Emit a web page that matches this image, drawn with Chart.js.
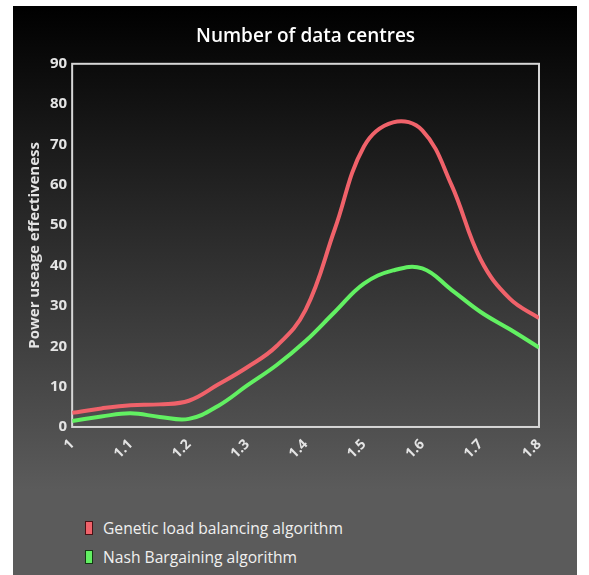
<!DOCTYPE html>
<html>
<head>
<meta charset="utf-8">
<title>Number of data centres</title>
<script src="https://cdn.jsdelivr.net/npm/chart.js@4.4.1/dist/chart.umd.min.js"></script>
<style>
  html, body { margin: 0; padding: 0; background: #fff; }
  #panel {
    position: absolute; left: 13px; top: 6px; width: 564px; height: 569px;
    background: linear-gradient(to bottom, #000 0%, #5b5b5b 85%, #5b5b5b 100%);
  }
  #wrap { position: absolute; left: 0; top: 0; width: 564px; height: 470px; }
  #legend { position: absolute; left: 72px; top: 507px; font-family: 'Open Sans', sans-serif; font-size: 17px; color: #f0f0f0; }
  #legend .item { display: flex; align-items: center; height: 29px; }
  #legend .box { width: 6px; height: 12px; border: 1px solid #2a2a2a; margin-right: 10px; }
  #legend .label { display: inline-block; transform: scaleX(0.92); transform-origin: left center; white-space: nowrap; }
</style>
</head>
<body>
<div id="panel">
  <div id="wrap"><canvas id="chart"></canvas></div>
  <div id="legend"></div>
</div>
<script>
// ===== DATA =====
const xValues = [1.00, 1.05, 1.10, 1.15, 1.20, 1.25, 1.30, 1.35, 1.40, 1.45, 1.50, 1.55, 1.60, 1.65, 1.70, 1.75, 1.80];
const geneticValues = [3.5, 4.6, 5.4, 5.6, 6.5, 10.5, 14.8, 20, 29, 49, 69.5, 75.5, 73.5, 60, 41.5, 31.8, 27];
const nashValues = [1.5, 2.6, 3.4, 2.5, 2.0, 5.2, 10.3, 15.3, 21.3, 28.5, 35.5, 38.8, 39.3, 34, 28.5, 24.2, 19.7];
const xTicks = [1, 1.1, 1.2, 1.3, 1.4, 1.5, 1.6, 1.7, 1.8];
const seriesNames = ['Genetic load balancing algorithm', 'Nash Bargaining algorithm'];

// ===== COLORS =====
const COLORS = {
  genetic: '#f0626a',
  geneticEdge: '#4a1014',
  nash: '#62f062',
  nashEdge: '#123a12',
  text: '#e4e4e4',
  frame: '#d6d6d6',
};

const FONT = "'Open Sans', sans-serif";

const toPoints = (values) => values.map((y, i) => ({ x: xValues[i], y }));

// frame around the plot area (top/right/bottom/left)
const plotFrame = {
  id: 'plotFrame',
  beforeDatasetsDraw(chart) {
    const { ctx, chartArea: { left, top, right, bottom } } = chart;
    ctx.save();
    ctx.strokeStyle = COLORS.frame;
    ctx.lineWidth = 2;
    ctx.strokeRect(left, top, right - left, bottom - top);
    ctx.restore();
  },
};

const chart = new Chart(document.getElementById('chart'), {
  type: 'line',
  data: {
    datasets: [
      {
        label: seriesNames[0],
        data: toPoints(geneticValues),
        borderColor: COLORS.genetic,
        backgroundColor: COLORS.genetic,
        borderWidth: 4,
        pointRadius: 0,
        tension: 0.4,
      },
      {
        label: seriesNames[1],
        data: toPoints(nashValues),
        borderColor: COLORS.nash,
        backgroundColor: COLORS.nash,
        borderWidth: 4,
        pointRadius: 0,
        tension: 0.4,
      },
    ],
  },
  options: {
    responsive: true,
    maintainAspectRatio: false,
    animation: false,
    layout: { padding: { left: 13, right: 38, top: 0, bottom: 5 } },
    plugins: {
      legend: { display: false },
      tooltip: { enabled: false },
      title: {
        display: true,
        fullSize: false,
        text: 'Number of data centres',
        color: '#ffffff',
        font: { family: FONT, size: 19, weight: '600' },
        padding: { top: 19, bottom: 16 },
      },
    },
    scales: {
      x: {
        type: 'linear',
        min: 1,
        max: 1.8,
        afterBuildTicks: (scale) => { scale.ticks = xTicks.map((value) => ({ value })); },
        grid: { display: false, drawTicks: false },
        border: { display: false },
        ticks: {
          color: COLORS.text,
          font: { family: FONT, size: 14, weight: 'bold' },
          minRotation: 45,
          maxRotation: 45,
          padding: 9,
          callback: (v) => String(v),
        },
      },
      y: {
        min: 0,
        max: 90,
        grid: { display: false, drawTicks: false },
        border: { display: false },
        ticks: {
          stepSize: 10,
          color: COLORS.text,
          font: { family: FONT, size: 15, weight: 'bold' },
          padding: 5,
        },
        title: {
          display: true,
          text: 'Power useage effectiveness',
          color: COLORS.text,
          font: { family: FONT, size: 15, weight: 'bold' },
          padding: { top: 0, bottom: 1 },
        },
      },
    },
  },
  plugins: [plotFrame],
});

// ===== HTML LEGEND (stacked, bottom-left) =====
const legendEl = document.getElementById('legend');
const edges = [COLORS.geneticEdge, COLORS.nashEdge];
chart.data.datasets.forEach((ds, i) => {
  const item = document.createElement('div');
  item.className = 'item';
  const box = document.createElement('span');
  box.className = 'box';
  box.style.background = ds.borderColor;
  box.style.borderColor = edges[i];
  const label = document.createElement('span');
  label.className = 'label';
  label.textContent = ds.label;
  item.appendChild(box);
  item.appendChild(label);
  legendEl.appendChild(item);
});
</script>
</body>
</html>
